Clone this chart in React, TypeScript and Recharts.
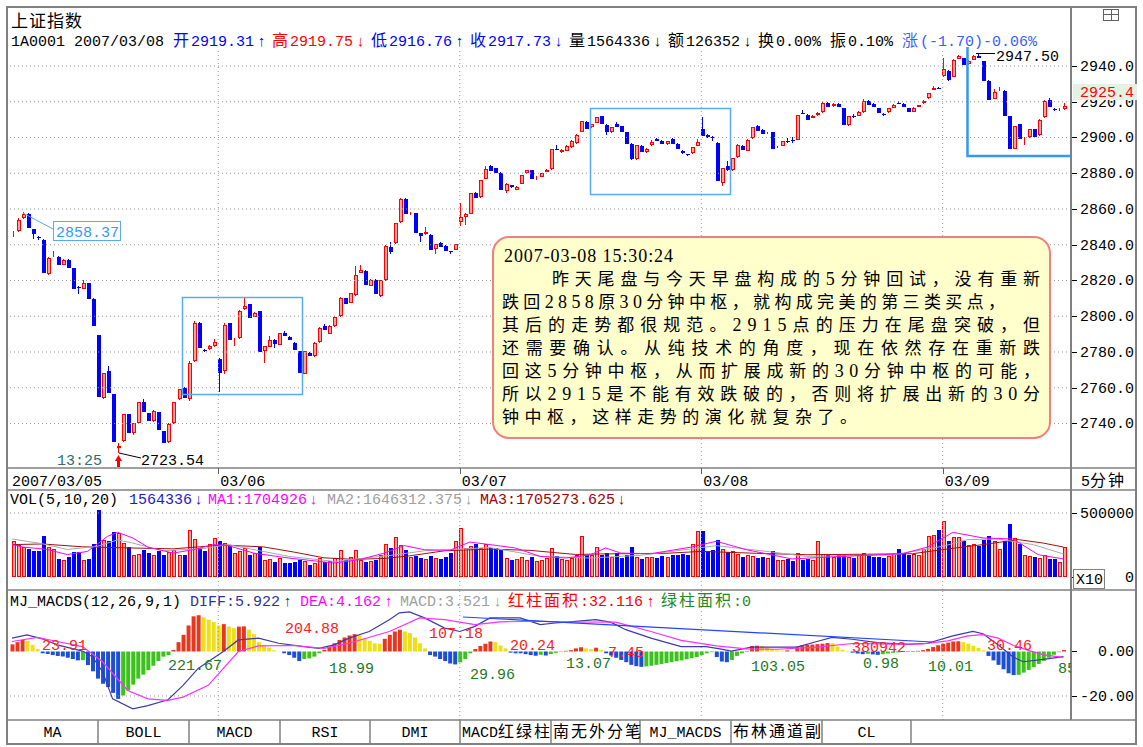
import React from 'react';
import { ComposedChart, Bar, Line, XAxis, YAxis, ReferenceLine, Cell } from 'recharts';

// ---------------- data ----------------
const OPEN = [2846.0,2847.8,2855.0,2857.2,2848.8,2844.5,2842.5,2823.4,2834.5,2833.2,2828.9,2831.5,2826.8,2816.5,2815.4,2818.4,2809.8,2789.3,2754.0,2769.1,2756.3,2726.5,2730.2,2745.2,2734.9,2740.0,2751.8,2745.6,2741.5,2746.2,2735.7,2729.7,2740.0,2753.5,2760.0,2753.5,2774.7,2796.5,2781.2,2781.5,2783.1,2776.0,2769.1,2796.2,2787.0,2787.8,2803.8,2806.6,2799.6,2802.8,2780.3,2782.8,2786.5,2784.1,2790.6,2788.4,2785.0,2780.3,2767.8,2779.4,2777.5,2785.4,2794.4,2790.3,2794.4,2800.0,2810.0,2807.5,2811.8,2824.4,2825.3,2817.2,2820.4,2811.5,2820.0,2839.0,2840.8,2852.5,2865.8,2857.7,2857.7,2846.4,2846.0,2845.5,2837.5,2841.1,2839.4,2836.3,2837.3,2852.5,2855.3,2857.4,2869.1,2866.6,2877.0,2884.2,2882.8,2880.4,2870.0,2873.2,2870.9,2874.2,2880.0,2881.7,2877.5,2878.1,2880.8,2882.3,2893.6,2891.7,2892.6,2894.5,2896.8,2903.0,2908.7,2905.7,2908.1,2911.9,2907.2,2903.0,2907.5,2906.4,2903.0,2896.4,2887.9,2895.5,2892.1,2895.8,2899.2,2898.1,2896.4,2898.9,2896.4,2892.6,2890.5,2891.3,2895.5,2904.9,2901.5,2900.2,2896.8,2874.5,2883.8,2881.9,2889.0,2895.3,2892.7,2899.6,2906.5,2904.2,2902.4,2902.8,2894.5,2895.3,2898.3,2898.6,2898.7,2913.6,2912.6,2911.0,2912.5,2914.0,2919.5,2917.5,2919.0,2916.3,2907.0,2912.3,2912.0,2914.0,2920.4,2918.8,2916.3,2913.2,2914.0,2916.5,2919.2,2918.8,2916.4,2914.5,2917.3,2919.2,2921.9,2926.6,2927.7,2934.4,2937.4,2934.0,2944.0,2944.3,2941.0,2943.6,2945.5,2942.7,2931.8,2921.8,2926.3,2926.0,2911.8,2893.6,2907.3,2900.0,2900.0,2904.5,2901.3,2911.4,2921.0,2916.0,2915.4,2915.8];
const HIGH = [2847.5,2855.0,2858.4,2858.0,2849.0,2845.0,2843.0,2833.0,2836.6,2833.6,2831.8,2831.8,2827.0,2817.0,2820.3,2818.8,2810.0,2789.5,2768.5,2771.9,2756.5,2729.1,2745.2,2745.5,2740.0,2751.8,2753.5,2746.0,2747.4,2746.5,2736.0,2740.0,2751.8,2759.5,2760.2,2774.7,2797.2,2797.0,2781.5,2783.7,2787.2,2776.5,2796.0,2796.5,2787.7,2803.5,2810.0,2806.8,2802.2,2803.0,2783.3,2789.1,2787.0,2790.8,2791.6,2788.7,2785.5,2780.5,2780.5,2779.8,2785.5,2793.8,2795.5,2795.0,2800.0,2810.5,2810.3,2813.0,2828.1,2828.7,2825.6,2821.0,2820.8,2820.2,2839.6,2841.7,2852.4,2866.0,2866.2,2858.5,2858.0,2846.8,2849.8,2846.0,2840.6,2841.5,2839.8,2836.6,2840.5,2863.4,2857.5,2869.0,2869.5,2876.3,2884.2,2884.5,2883.0,2880.7,2874.4,2873.6,2872.8,2879.2,2882.0,2882.0,2878.4,2880.2,2882.1,2893.8,2895.8,2893.3,2895.7,2898.5,2901.7,2909.3,2909.0,2907.8,2911.7,2912.2,2907.5,2906.0,2908.8,2906.7,2903.3,2896.7,2896.0,2895.8,2893.9,2898.8,2899.6,2898.4,2898.3,2899.5,2896.7,2892.9,2891.0,2894.7,2899.0,2911.5,2901.8,2900.6,2897.4,2883.0,2886.6,2888.6,2896.1,2895.6,2898.9,2905.9,2906.8,2904.5,2903.0,2903.1,2895.2,2898.3,2899.8,2900.0,2912.8,2915.4,2912.9,2912.6,2914.1,2919.7,2919.8,2919.3,2919.3,2916.6,2912.2,2913.0,2914.7,2921.6,2920.7,2919.1,2916.6,2913.8,2916.6,2918.5,2920.2,2919.1,2916.7,2916.9,2918.4,2920.7,2924.9,2928.6,2928.4,2944.5,2937.7,2943.7,2946.2,2944.6,2943.3,2946.4,2947.5,2943.0,2932.1,2927.3,2928.5,2926.3,2912.1,2906.6,2907.6,2900.5,2904.7,2904.8,2910.2,2920.7,2921.9,2916.4,2916.4,2919.2];
const LOW = [2844.5,2847.0,2854.6,2849.1,2843.1,2842.8,2824.0,2822.8,2833.4,2828.5,2828.5,2826.8,2815.4,2812.6,2815.0,2809.4,2794.8,2755.0,2753.5,2757.3,2729.7,2723.54,2729.8,2734.9,2733.4,2739.5,2746.2,2741.5,2741.0,2736.2,2729.3,2729.0,2739.5,2753.0,2754.0,2752.5,2774.5,2782.0,2780.0,2781.0,2783.0,2757.8,2767.5,2786.9,2783.5,2787.5,2803.6,2799.1,2799.4,2779.8,2773.8,2782.6,2782.2,2783.8,2788.7,2786.5,2781.3,2768.1,2767.5,2777.5,2777.0,2785.0,2792.1,2790.0,2794.2,2799.8,2806.6,2807.2,2811.5,2824.0,2817.3,2816.8,2812.5,2810.6,2819.8,2835.1,2840.5,2852.2,2857.0,2856.5,2846.8,2841.7,2845.5,2837.0,2835.1,2838.5,2836.6,2834.8,2837.0,2850.6,2851.1,2857.0,2866.2,2866.3,2876.8,2881.3,2880.4,2870.6,2868.8,2872.0,2870.5,2874.0,2879.8,2877.0,2876.0,2877.8,2880.5,2882.0,2892.8,2891.2,2892.3,2894.2,2896.5,2902.8,2904.9,2905.4,2907.9,2907.7,2901.5,2902.7,2905.7,2903.0,2896.4,2887.4,2887.5,2892.1,2891.5,2895.5,2898.0,2896.4,2896.0,2896.4,2893.6,2890.5,2889.8,2891.0,2895.2,2900.8,2899.5,2898.0,2875.5,2872.6,2881.5,2881.5,2888.7,2893.1,2892.4,2899.3,2903.9,2902.0,2902.0,2893.6,2894.0,2895.0,2896.8,2897.0,2898.4,2913.0,2909.8,2910.8,2912.2,2913.8,2917.3,2917.2,2917.3,2907.0,2906.5,2911.0,2911.8,2913.8,2918.2,2916.9,2913.5,2912.0,2913.8,2916.3,2918.8,2917.3,2914.5,2914.2,2917.0,2919.0,2921.6,2926.3,2926.9,2934.0,2931.8,2933.6,2943.7,2940.6,2940.7,2943.3,2944.2,2931.8,2920.9,2921.5,2926.0,2911.8,2893.3,2893.3,2899.0,2895.8,2899.7,2900.0,2901.0,2911.1,2917.0,2914.8,2915.1,2915.5];
const CLOSE = [2846.3,2854.0,2857.2,2849.1,2845.9,2844.0,2824.0,2832.8,2835.0,2828.5,2831.5,2826.8,2815.4,2815.8,2818.6,2809.4,2794.8,2755.0,2768.1,2757.3,2729.7,2727.5,2745.2,2734.9,2740.0,2751.8,2746.2,2741.5,2747.2,2736.2,2729.3,2739.6,2751.8,2759.1,2754.0,2773.8,2796.2,2782.0,2780.3,2783.5,2785.4,2768.1,2795.3,2786.9,2787.5,2803.2,2806.0,2799.1,2801.9,2779.8,2783.1,2786.9,2784.6,2790.6,2788.7,2786.5,2781.3,2768.1,2780.3,2778.0,2785.0,2793.4,2792.1,2794.8,2799.6,2810.0,2806.6,2812.8,2822.9,2825.9,2817.3,2820.4,2812.5,2820.0,2839.4,2836.0,2852.1,2865.8,2857.2,2858.0,2846.8,2844.9,2847.4,2837.0,2840.4,2838.5,2836.6,2835.8,2840.2,2855.3,2857.2,2868.7,2866.2,2876.0,2882.6,2881.3,2880.4,2870.6,2874.2,2872.3,2872.5,2878.9,2881.7,2877.0,2878.1,2880.0,2881.9,2893.6,2893.2,2893.0,2895.5,2898.3,2901.5,2909.1,2904.9,2907.5,2911.5,2907.7,2903.0,2905.7,2905.7,2903.0,2896.4,2887.9,2895.8,2892.1,2893.6,2897.7,2898.1,2896.4,2898.1,2896.4,2893.6,2891.1,2890.2,2894.5,2897.7,2901.1,2900.2,2900.0,2875.7,2882.8,2881.9,2888.4,2895.9,2893.1,2898.7,2905.7,2903.9,2902.0,2902.8,2893.6,2894.9,2898.1,2898.0,2898.4,2912.6,2913.4,2909.8,2912.0,2913.9,2919.5,2917.3,2919.0,2917.3,2907.0,2912.0,2912.0,2914.5,2920.4,2918.2,2916.9,2913.5,2913.0,2916.3,2918.3,2919.0,2917.3,2914.5,2916.7,2918.2,2920.5,2924.7,2927.5,2927.5,2938.5,2932.4,2943.2,2945.5,2940.6,2943.0,2945.5,2944.5,2931.8,2920.9,2925.5,2926.8,2911.8,2893.3,2906.4,2899.0,2900.2,2904.5,2900.0,2910.0,2920.5,2917.0,2915.8,2916.2,2917.7];
// volume in thousands (axis label 500000)
const VOLUME_K = [278,250,232,218,200,205,318,232,215,140,135,160,198,195,130,140,255,525,290,280,355,345,265,235,175,180,210,190,175,200,170,195,210,175,170,370,300,225,205,255,305,284,262,240,185,205,230,170,185,234,130,140,120,145,112,108,120,130,125,90,108,150,115,128,150,208,130,160,210,130,120,125,130,170,260,227,312,250,208,160,165,150,140,165,150,140,155,187,280,383,227,245,260,230,255,230,225,210,150,130,140,155,135,160,125,130,150,227,165,140,135,150,175,323,175,170,234,170,190,160,185,150,175,234,160,140,155,160,150,165,160,175,170,180,175,255,357,357,200,210,286,220,195,200,180,155,175,165,150,160,150,200,135,130,140,125,185,135,140,130,279,180,175,160,170,175,160,150,170,185,170,155,160,150,165,180,219,185,170,180,175,215,318,325,370,440,279,310,310,279,250,258,245,292,323,279,215,279,414,305,260,175,165,160,150,175,140,140,115,234];
const MACD_BAR = [3.2,4.2,5.2,4.8,3.0,1.1,-0.8,-1.1,-1.6,-2.0,-2.3,-2.8,-3.4,-4.0,-3.9,-6.1,-8.9,-12.2,-14.5,-16.0,-18.6,-21.3,-19.8,-17.5,-14.9,-12.2,-10.4,-8.4,-6.4,-4.3,-2.3,-1.6,0.7,4.2,7.5,11.7,15.8,16.3,15.4,14.3,13.3,11.7,12.3,11.2,10.5,11.2,11.3,9.8,7.8,4.2,3.0,1.8,0.5,0.1,-0.8,-1.6,-2.8,-4.3,-3.4,-3.1,-2.3,-0.8,0.7,2.2,3.7,5.2,6.3,7.2,7.8,7.2,6.0,4.8,3.7,3.5,5.7,7.5,9.0,9.8,9.0,8.3,6.3,3.7,1.4,-1.6,-2.3,-3.4,-4.3,-5.4,-5.8,-4.9,-3.4,-0.8,1.1,2.5,3.5,4.5,4.2,2.7,1.4,-0.5,-0.8,-0.8,-1.2,-1.6,-1.9,-1.5,-1.8,-1.2,-0.6,-0.2,0.3,0.6,1.4,1.9,1.4,1.1,1.7,0.7,-0.8,-1.8,-2.8,-3.8,-4.8,-6.0,-6.6,-6.9,-6.7,-6.4,-6.0,-5.6,-5.2,-4.8,-4.4,-4.0,-3.5,-3.0,-2.5,-1.6,-0.8,-0.3,-2.5,-4.5,-4.8,-3.8,-2.0,-0.8,0.2,2.5,2.6,2.5,1.8,0.8,0.5,0.4,0.5,0.3,2.2,2.8,3.0,3.1,3.3,3.5,3.8,3.7,2.2,0.8,0.3,-0.5,-0.9,-1.2,-1.0,-1.3,-1.5,-1.2,-0.9,-0.6,-0.4,-0.2,0.2,-0.2,0.3,0.6,1.2,2.0,2.8,3.5,4.0,4.5,4.6,4.2,3.5,2.6,1.6,0.6,-2.0,-4.0,-6.0,-8.0,-9.8,-10.6,-10.5,-9.5,-8.3,-7.0,-5.6,-4.2,-2.8,-1.5,-0.3,0.7];
const DIFF_KNOTS: [number, number][] = [[0,6.0],[3,7.5],[6,5.7],[9,3.0],[14,0.2],[16,-2.4],[18,-9.1],[20,-21.3],[24,-25.8],[27,-24.3],[31,-21.7],[34,-15.2],[37,-7.6],[42,0],[45,5.2],[49,6.0],[53,3.7],[58,2.2],[61,1.4],[64,3.0],[67,6.0],[71,9.0],[75,14.3],[77,17.4],[79,17.8],[82,15.1],[86,10.5],[89,9.0],[92,11.3],[95,15.1],[101,15.1],[105,12.1],[108,12.8],[112,13.5],[116,14.3],[119,13.2],[122,9.8],[127,6.0],[133,2.2],[138,2.2],[141,1.1],[143,0.2],[147,2.0],[156,2.0],[160,4.5],[163,6.3],[167,5.5],[172,4.0],[178,3.2],[182,3.7],[187,7.0],[191,9.0],[193,8.0],[196,3.0],[199,-2.5],[201,-4.6],[205,-3.5],[209,-2.3]];
const DEA_KNOTS: [number, number][] = [[0,4.5],[5,6.3],[9,4.5],[14,2.2],[18,-4.6],[23,-17.5],[27,-21.3],[31,-22.0],[34,-20.5],[39,-15.2],[45,0],[49,2.5],[56,2.7],[62,1.4],[67,3.7],[75,9.0],[81,15.1],[86,14.3],[92,12.1],[97,13.3],[104,13.6],[109,13.3],[120,13.2],[127,9.0],[133,5.0],[140,2.5],[146,1.2],[152,1.0],[160,2.0],[167,3.6],[175,3.3],[181,3.4],[186,4.8],[190,7.0],[193,7.6],[196,6.0],[199,2.8],[202,0.5],[205,-1.5],[209,-2.6]];
const MA1_KNOTS: [number, number][] = [[0,253],[2,235],[7,215],[11,175],[15,200],[19,318],[21,349],[24,305],[27,234],[32,187],[36,213],[40,253],[43,245],[48,187],[55,148],[61,122],[64,109],[69,135],[74,187],[78,245],[82,213],[87,208],[91,273],[95,253],[100,227],[105,161],[110,148],[115,174],[118,227],[121,187],[127,182],[135,234],[140,279],[146,213],[155,141],[165,161],[177,182],[182,234],[187,349],[193,305],[199,297],[204,174],[209,141]];
const MA2_KNOTS: [number, number][] = [[0,297],[6,260],[11,215],[17,240],[21,290],[24,265],[30,205],[38,222],[43,253],[55,161],[64,122],[76,172],[82,205],[95,230],[105,161],[115,148],[125,170],[140,245],[150,200],[158,161],[175,172],[185,240],[190,292],[196,297],[203,253],[209,180]];
const MA3_KNOTS: [number, number][] = [[0,253],[6,258],[14,236],[22,228],[32,220],[42,250],[50,235],[56,195],[62,150],[68,138],[74,145],[79,165],[86,205],[95,218],[103,208],[112,176],[117,180],[130,185],[137,200],[148,185],[158,174],[170,178],[179,182],[186,219],[193,253],[200,292],[205,265],[209,234]];
const DAY_STARTS = [0, 41, 89, 137, 185];
const DAY_LABELS = ['2007/03/05', '03/06', '03/07', '03/08', '03/09'];
const PRICE_TICKS = [2740, 2760, 2780, 2800, 2820, 2840, 2860, 2880, 2900, 2920, 2940];
const VOL_TICKS = [0, 500000];
const MACD_TICKS = [0, -20];
const SLOTS = 211;

// ---------------- styles ----------------
const MONO = "'Liberation Mono','DejaVu Sans Mono',monospace";
const CJK = "'Noto Sans CJK SC','Noto Sans CJK JP',sans-serif";
const SERIF = "'Liberation Serif','DejaVu Serif',serif";
const RED = '#ff0000';
const BLUE = '#0000ff';
const UPFILL = '#f6a5a5';
const GRID = '#9a9a9a';
const FRAME = '#808080';

const toMap = (k: [number, number][], mul = 1) => {
  const m: Record<number, number> = {};
  k.forEach(([i, v]) => { m[i] = v * mul; });
  return m;
};
const diffM = toMap(DIFF_KNOTS), deaM = toMap(DEA_KNOTS);
const ma1M = toMap(MA1_KNOTS, 1000), ma2M = toMap(MA2_KNOTS, 1000), ma3M = toMap(MA3_KNOTS, 1000);

const rows = Array.from({ length: SLOTS }, (_, i) => {
  const has = i < OPEN.length;
  return {
    i,
    o: has ? OPEN[i] : null,
    h: has ? HIGH[i] : null,
    l: has ? LOW[i] : null,
    c: has ? CLOSE[i] : null,
    hl: has ? [LOW[i], HIGH[i]] : null,
    v: has ? VOLUME_K[i] * 1000 : null,
    m: has ? MACD_BAR[i] : null,
    diff: diffM[i] ?? null,
    dea: deaM[i] ?? null,
    ma1: ma1M[i] ?? null,
    ma2: ma2M[i] ?? null,
    ma3: ma3M[i] ?? null,
  };
});

const macdColor = (i: number) => {
  const v = MACD_BAR[i];
  const p = i > 0 ? MACD_BAR[i - 1] : v;
  if (v >= 0) return v >= p ? '#e6381e' : '#f0de18';
  return v <= p ? '#1d4fd6' : '#3cc21c';
};

const Candle = (props: any) => {
  const { x, y, width, height, payload } = props;
  if (!payload || payload.o == null) return null;
  const { o, h, l, c } = payload;
  const top = Math.min(y, y + height);
  const bot = Math.max(y, y + height);
  const span = h - l;
  const py = (v: number) => (span > 0 ? top + ((h - v) / span) * (bot - top) : top);
  const cx = Math.round(x + width / 2);
  const up = c >= o;
  const col = up ? RED : BLUE;
  const bt = Math.round(py(Math.max(o, c)));
  const bb = Math.max(Math.round(py(Math.min(o, c))), bt + 1);
  return (
    <g>
      <line x1={cx + 0.5} x2={cx + 0.5} y1={Math.round(top)} y2={Math.round(bot)} stroke={col} strokeWidth={1} />
      {up ? (
        <rect x={cx - 0.5} y={bt + 0.5} width={3} height={Math.max(bb - bt - 1, 0)} fill={UPFILL} stroke={col} strokeWidth={1} />
      ) : (
        <rect x={cx - 1} y={bt} width={4} height={bb - bt} fill={col} />
      )}
    </g>
  );
};

const VolBar = (props: any) => {
  const { x, y, width, height, payload } = props;
  if (!payload || payload.v == null) return null;
  const up = payload.c >= payload.o;
  const cx = Math.round(x + width / 2);
  const t = Math.round(Math.min(y, y + height));
  const b = Math.round(Math.max(y, y + height));
  return up ? (
    <rect x={cx - 0.5} y={t + 0.5} width={3} height={b - t - 1} fill={UPFILL} stroke={RED} strokeWidth={1} />
  ) : (
    <rect x={cx - 1} y={t} width={4} height={b - t} fill={BLUE} />
  );
};

const makeTick = (fmt: (v: number) => string) => (props: any) => {
  const { y, payload } = props;
  const yy = Math.round(y) + 0.5;
  return (
    <g>
      <line x1={1071} x2={1077} y1={yy} y2={yy} stroke="#000" strokeWidth={1} />
      <text x={1134} y={y + 5} textAnchor="end" fontFamily={MONO} fontSize={15} fill="#000">{fmt(payload.value)}</text>
    </g>
  );
};

const DateTick = (props: any) => {
  const { x, y, payload } = props;
  const k = DAY_STARTS.indexOf(payload.value);
  if (k < 0) return null;
  const xx = Math.round(x) + 0.5;
  return (
    <g>
      {k > 0 && <line x1={xx} x2={xx} y1={y} y2={y + 6} stroke="#606060" strokeWidth={1} />}
      <text x={k > 0 ? x + 2 : x} y={y + 18} fontFamily={MONO} fontSize={15} fill="#000">{DAY_LABELS[k]}</text>
    </g>
  );
};

type Seg = [string, number, string, number?];
const SegLine = ({ y, segs }: { y: number; segs: Seg[] }) => (
  <g>
    {segs.map(([t, x, c, k], j) => (
      <text key={j} x={x} y={y} fill={c} fontFamily={k ? CJK : MONO} fontSize={k ? 16 : 15} letterSpacing={k ? 2 : 0}>{t}</text>
    ))}
  </g>
);

const HEADER: Seg[] = [
  ['1A0001', 11, '#000'], ['2007/03/08', 74, '#000'],
  ['开', 173, BLUE, 1], ['2919.31', 191, BLUE], ['↑', 257, BLUE],
  ['高', 272, RED, 1], ['2919.75', 290, RED], ['↓', 356, RED],
  ['低', 371, BLUE, 1], ['2916.76', 389, BLUE], ['↑', 455, BLUE],
  ['收', 470, BLUE, 1], ['2917.73', 488, BLUE], ['↓', 554, BLUE],
  ['量', 569, '#000', 1], ['1564336', 587, '#000'], ['↓', 653, '#000'],
  ['额', 668, '#000', 1], ['126352', 686, '#000'], ['↓', 743, '#000'],
  ['换', 758, '#000', 1], ['0.00%', 776, '#000'],
  ['振', 830, '#000', 1], ['0.10%', 848, '#000'],
  ['涨', 902, '#3a5cff', 1], ['(-1.70)-0.06%', 920, '#3a5cff'],
];
const VOL_HEADER: Seg[] = [
  ['VOL(5,10,20)', 10, '#000'], ['1564336', 129, '#1a1ad0'], ['↓', 194, '#1a1ad0'],
  ['MA1:1704926', 208, '#ff00ff'], ['↓', 309, '#ff00ff'],
  ['MA2:1646312.375', 327, '#a0a0a0'], ['↓', 464, '#a0a0a0'],
  ['MA3:1705273.625', 480, '#a00000'], ['↓', 617, '#a00000'],
];
const MACD_HEADER: Seg[] = [
  ['MJ_MACDS(12,26,9,1)', 10, '#000'], ['DIFF:5.922', 190, '#3030a0'], ['↑', 283, '#3030a0'],
  ['DEA:4.162', 300, '#ff00ff'], ['↑', 384, '#ff00ff'],
  ['MACD:3.521', 400, '#a0a0a0'], ['↓', 493, '#a0a0a0'],
  ['红柱面积', 508, RED, 1], [':32.116', 580, RED], ['↑', 646, RED],
  ['绿柱面积', 661, '#1f8a1f', 1], [':0', 733, '#1f8a1f'],
];
const MACD_LABELS: [string, number, number, string][] = [
  ['23.91', 42, 650, '#ff2020'], ['221.67', 168, 670, '#1f7a1f'], ['204.88', 285, 633, '#ff2020'],
  ['18.99', 329, 673, '#1f7a1f'], ['107.18', 429, 638, '#ff2020'], ['29.96', 470, 679, '#1f7a1f'],
  ['20.24', 510, 650, '#ff2020'], ['13.07', 566, 668, '#1f7a1f'], ['7.45', 608, 657, '#ff2020'],
  ['103.05', 751, 671, '#1f7a1f'], ['380942', 852, 652, '#ff2020'], ['0.98', 863, 668, '#1f7a1f'],
  ['10.01', 928, 671, '#1f7a1f'], ['30.46', 987, 650, '#ff2020'], ['85', 1058, 673, '#1f7a1f'],
];
const NOTE_TIME = '2007-03-08 15:30:24';
const NOTE_LINES: [string, number, number, number][] = [
  ['昨天尾盘与今天早盘构成的5分钟回试，没有重新', 552, 285, 488],
  ['跌回2858原30分钟中枢，就构成完美的第三类买点，', 502, 308, 503],
  ['其后的走势都很规范。2915点的压力在尾盘突破，但', 502, 331, 538],
  ['还需要确认。从纯技术的角度，现在依然存在重新跌', 502, 354, 538],
  ['回这5分钟中枢，从而扩展成新的30分钟中枢的可能，', 502, 377, 538],
  ['所以2915是不能有效跌破的，否则将扩展出新的30分', 502, 400, 538],
  ['钟中枢，这样走势的演化就复杂了。', 502, 423, 355],
];
const TABS: [string, number, number][] = [
  ['MA', 7, 98], ['BOLL', 98, 189], ['MACD', 189, 280], ['RSI', 280, 370], ['DMI', 370, 460],
  ['MACD红绿柱', 460, 551], ['南无外分笔', 551, 640], ['MJ_MACDS', 640, 731], ['布林通道副', 731, 822], ['CL', 822, 911],
];

const NoteLine = ({ t, x, y, w }: { t: string; x: number; y: number; w: number }) => {
  const parts = t.match(/[0-9]+|[^0-9]+/g) || [];
  return (
    <text x={x} y={y} fontSize={17} fill="#000" textLength={w} lengthAdjust="spacing">
      {parts.map((p, j) => (
        <tspan key={j} fontFamily={/^[0-9]/.test(p) ? SERIF : CJK} fontSize={/^[0-9]/.test(p) ? 18 : 17}>{p}</tspan>
      ))}
    </text>
  );
};

const TabLabel = ({ t, a, b }: { t: string; a: number; b: number }) => {
  const ascii = /^[A-Z_]+$/.test(t);
  if (ascii) {
    return <text x={(a + b) / 2} y={737} textAnchor="middle" fontFamily={MONO} fontSize={15} fill="#000">{t}</text>;
  }
  const m = t.match(/^([A-Z]*)(.*)$/) || ['', '', t];
  return (
    <g>
      {m[1] && <text x={a + 2} y={737} fontFamily={MONO} fontSize={15} fill="#000">{m[1]}</text>}
      <text x={a + 2 + m[1].length * 9} y={737} fontFamily={CJK} fontSize={16} letterSpacing={2} fill="#000">{m[2]}</text>
    </g>
  );
};

export default function App() {
  return (
    <div style={{ position: 'absolute', left: 0, top: 0, width: 1143, height: 747, background: '#fff', overflow: 'hidden' }}>
      {/* price panel */}
      <div style={{ position: 'absolute', left: 0, top: 48 }}>
        <ComposedChart width={1143} height={442} data={rows} margin={{ top: 0, right: 0, bottom: 0, left: 9.5 }}>
          <XAxis dataKey="i" ticks={DAY_STARTS} interval={0} height={22} axisLine={false} tickLine={false} tickSize={0} tickMargin={0} tick={DateTick} />
          <YAxis orientation="right" width={72} type="number" domain={[2715.1, 2950.07]} allowDataOverflow ticks={PRICE_TICKS} axisLine={false} tickLine={false} tick={makeTick((v) => v.toFixed(1))} />
          {PRICE_TICKS.map((p) => <ReferenceLine key={p} y={p} stroke={GRID} strokeDasharray="1 3" />)}
          {DAY_STARTS.slice(1).map((d) => <ReferenceLine key={d} x={d} stroke={GRID} strokeDasharray="1 3" />)}
          <Bar dataKey="hl" barSize={4} shape={Candle} isAnimationActive={false} />
        </ComposedChart>
      </div>
      {/* volume panel */}
      <div style={{ position: 'absolute', left: 0, top: 490 }}>
        <ComposedChart width={1143} height={100} data={rows} margin={{ top: 0, right: 0, bottom: 0, left: 9.5 }}>
          <XAxis dataKey="i" hide />
          <YAxis orientation="right" width={72} type="number" domain={[-101562, 679687]} allowDataOverflow ticks={VOL_TICKS} axisLine={false} tickLine={false} tick={makeTick((v) => String(v))} />
          <ReferenceLine y={500000} stroke={GRID} strokeDasharray="1 3" />
          {DAY_STARTS.slice(1).map((d) => <ReferenceLine key={d} x={d} stroke={GRID} strokeDasharray="1 3" />)}
          <Bar dataKey="v" barSize={4} shape={VolBar} isAnimationActive={false} />
          <Line dataKey="ma3" stroke="#a01010" dot={false} connectNulls strokeWidth={1} isAnimationActive={false} />
          <Line dataKey="ma2" stroke="#a8a8a8" dot={false} connectNulls strokeWidth={1} isAnimationActive={false} />
          <Line dataKey="ma1" stroke="#ff00ff" dot={false} connectNulls strokeWidth={1} isAnimationActive={false} />
        </ComposedChart>
      </div>
      {/* MACD panel */}
      <div style={{ position: 'absolute', left: 0, top: 590 }}>
        <ComposedChart width={1143} height={130} data={rows} margin={{ top: 0, right: 0, bottom: 0, left: 9.5 }}>
          <XAxis dataKey="i" hide />
          <YAxis orientation="right" width={72} type="number" domain={[-30.79, 27.64]} allowDataOverflow ticks={MACD_TICKS} axisLine={false} tickLine={false} tick={makeTick((v) => v.toFixed(2))} />
          <ReferenceLine y={-20} stroke={GRID} strokeDasharray="1 3" />
          {DAY_STARTS.slice(1).map((d) => <ReferenceLine key={d} x={d} stroke={GRID} strokeDasharray="1 3" />)}
          <Bar dataKey="m" barSize={4} isAnimationActive={false}>
            {rows.map((r) => <Cell key={r.i} fill={r.m == null ? 'none' : macdColor(r.i)} />)}
          </Bar>
          <Line dataKey="diff" stroke="#3c3ca6" dot={false} connectNulls strokeWidth={1.2} isAnimationActive={false} />
          <Line dataKey="dea" stroke="#ff30ff" dot={false} connectNulls strokeWidth={1.2} isAnimationActive={false} />
        </ComposedChart>
      </div>

      {/* overlay: frame, texts, drawings */}
      <svg style={{ position: 'absolute', left: 0, top: 0 }} width={1143} height={747}>
        <defs>
          <clipPath id="plotClip"><rect x={8} y={0} width={1063} height={747} /></clipPath>
        </defs>
        {/* frame */}
        <rect x={7} y={7} width={1129} height={737} fill="none" stroke={FRAME} strokeWidth={2} />
        <line x1={1071} x2={1071} y1={7} y2={720} stroke={FRAME} strokeWidth={2} />
        <line x1={7} x2={1136} y1={468} y2={468} stroke={FRAME} strokeWidth={1.5} />
        <line x1={7} x2={1136} y1={490} y2={490} stroke={FRAME} strokeWidth={1.5} />
        <line x1={7} x2={1136} y1={590} y2={590} stroke={FRAME} strokeWidth={1.5} />
        <line x1={7} x2={1136} y1={720} y2={720} stroke={FRAME} strokeWidth={1.5} />
        {TABS.map(([, a]) => <line key={a} x1={a} x2={a} y1={720} y2={744} stroke={FRAME} strokeWidth={1.5} />)}
        <line x1={911} x2={911} y1={720} y2={744} stroke={FRAME} strokeWidth={1.5} />
        {TABS.map(([t, a, b]) => <TabLabel key={t} t={t} a={a} b={b} />)}

        {/* headers */}
        <text x={11} y={27} fontFamily={CJK} fontSize={17} fill="#000" letterSpacing={1}>上证指数</text>
        <SegLine y={46} segs={HEADER} />
        <SegLine y={504} segs={VOL_HEADER} />
        <SegLine y={606} segs={MACD_HEADER} />
        <rect x={1103.5} y={9.5} width={15} height={11} fill="none" stroke="#606060" />
        <line x1={1103.5} x2={1118.5} y1={14.5} y2={14.5} stroke="#606060" />
        <line x1={1111.5} x2={1111.5} y1={9.5} y2={20.5} stroke="#606060" />

        {/* right column extras */}
        <text x={1081} y={486} fontFamily={MONO} fontSize={15} fill="#000">5</text>
        <text x={1090} y={486} fontFamily={CJK} fontSize={16} letterSpacing={2} fill="#000">分钟</text>
        <rect x={1073.5} y={569.5} width={31} height={19} fill="#fff" stroke={FRAME} />
        <text x={1076} y={584} fontFamily={MONO} fontSize={15} fill="#000">X10</text>
        <rect x={1073} y={84} width={64} height={16} fill="#e4f2e4" />
        <text x={1134} y={97} textAnchor="end" fontFamily={MONO} fontSize={15} fill={RED}>2925.4</text>

        {/* price annotations */}
        <rect x={182.5} y={297.5} width={120} height={97} fill="none" stroke="#5aaaf0" strokeWidth={1.5} />
        <rect x={590.5} y={108.5} width={140} height={86} fill="none" stroke="#5aaaf0" strokeWidth={1.5} />
        <polyline points="967.5,47 967.5,156 1071,156" fill="none" stroke="#3399ee" strokeWidth={2.5} />
        <line x1={23} y1={213} x2={53} y2={229} stroke="#5aaaf0" strokeWidth={1} />
        <rect x={53.5} y={221.5} width={67} height={19} fill="#fff" stroke="#5aaaf0" strokeWidth={1} />
        <text x={56} y={237} fontFamily={MONO} fontSize={15} fill="#3399ff">2858.37</text>
        <line x1={119} y1={453} x2={141} y2={458} stroke="#000" strokeWidth={1} />
        <text x={141} y={465} fontFamily={MONO} fontSize={15} fill="#000">2723.54</text>
        <text x={57} y={465} fontFamily={MONO} fontSize={15} fill="#2f6f6f">13:25</text>
        <polygon points="118.5,455 122,461 115,461" fill={RED} />
        <rect x={117} y={461} width={3} height={6} fill={RED} />
        <line x1={976} y1={53.5} x2={995} y2={53.5} stroke="#000" strokeWidth={1} />
        <text x={996} y={61} fontFamily={MONO} fontSize={15} fill="#000">2947.50</text>

        {/* note box */}
        <rect x={493} y={237} width={557} height={201} rx={16} ry={16} fill="#ffffcc" stroke="#f08080" strokeWidth={2} />
        <text x={504} y={262} fontFamily={SERIF} fontSize={18} fill="#000" textLength={169} lengthAdjust="spacing">{NOTE_TIME}</text>
        {NOTE_LINES.map(([t, x, y, w]) => <NoteLine key={y} t={t} x={x} y={y} w={w} />)}

        {/* MACD drawings */}
        <line x1={463} y1={617} x2={932} y2={642} stroke="#2244ff" strokeWidth={1.2} />
        <g clipPath="url(#plotClip)">
          {MACD_LABELS.map(([t, x, y, c]) => (
            <text key={t + x} x={x} y={y} fontFamily={MONO} fontSize={15} fill={c}>{t}</text>
          ))}
        </g>
      </svg>
    </div>
  );
}
